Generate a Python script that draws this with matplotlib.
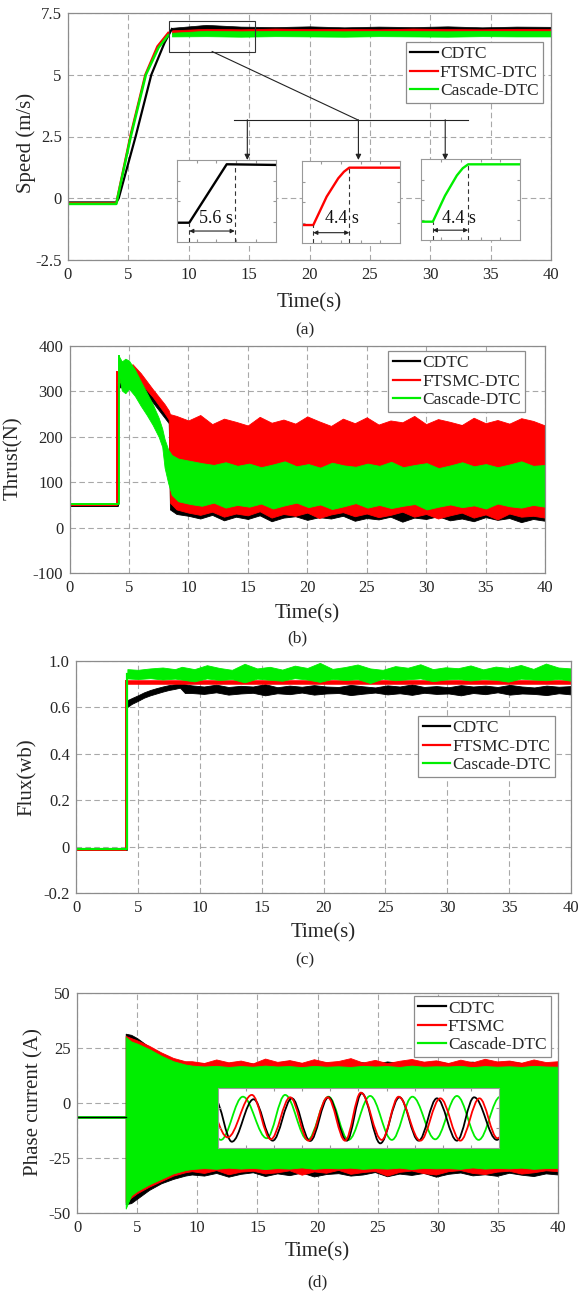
import numpy as np
import matplotlib.pyplot as plt
from matplotlib.lines import Line2D
from matplotlib.patches import Rectangle, PathPatch
from matplotlib.path import Path

plt.rcParams['font.family'] = ['Liberation Serif', 'DejaVu Serif']
plt.rcParams['axes.unicode_minus'] = False

W, H = 579, 1291
BLACK, RED, GREEN = '#000000', '#ff0000', '#00ee00'
GRID = '#a8a8a8'
FRAME = '#8c8c8c'
TXT = '#262626'

labels_abc = ['CDTC', 'FTSMC-DTC', 'Cascade-DTC']
labels_d = ['CDTC', 'FTSMC', 'Cascade-DTC']

# ---------------- (a) speed ----------------
a_blk_t = [0, 4.0, 4.2, 5.6, 6.9, 8.0, 8.6]
a_blk_y = [-0.17, -0.17, 0.0, 2.5, 5.0, 6.3, 6.85]
a_red_t = [0, 4.0, 4.1, 5.2, 6.4, 7.4, 8.3]
a_red_y = [-0.2, -0.2, 0.05, 2.6, 5.0, 6.15, 6.7]
a_grn_t = [0, 4.0, 4.1, 5.2, 6.45, 7.5, 8.3]
a_grn_y = [-0.23, -0.23, 0.0, 2.5, 5.0, 6.1, 6.6]
a_blk_hi = [6.9, 7.02, 6.95, 6.93, 6.96, 6.92, 6.95, 6.93, 6.96, 6.92, 6.95, 6.94]
a_blk_lo = [6.8, 6.78, 6.76, 6.78, 6.75, 6.77, 6.76, 6.78, 6.75, 6.77, 6.76, 6.77]
a_red_hi = [6.8, 6.86, 6.84, 6.87, 6.85, 6.86, 6.84, 6.87, 6.85, 6.84, 6.86, 6.85]
a_red_lo = [6.66, 6.67, 6.65, 6.67, 6.66, 6.65, 6.67, 6.66, 6.65, 6.67, 6.66, 6.66]
a_grn_hi = [6.7, 6.78, 6.76, 6.78, 6.77, 6.76, 6.78, 6.77, 6.76, 6.78, 6.77, 6.77]
a_grn_lo = [6.55, 6.56, 6.54, 6.56, 6.55, 6.54, 6.56, 6.55, 6.54, 6.56, 6.55, 6.55]

# zoomed step responses (inset units, 0..1)
ins_blk_x = [0, 0.127, 0.505, 1.0]
ins_blk_y = [0.238, 0.238, 0.948, 0.94]
ins_red_x = [0, 0.118, 0.254, 0.372, 0.43, 0.484, 1.0]
ins_red_y = [0.222, 0.222, 0.567, 0.79, 0.87, 0.919, 0.919]
ins_grn_x = [0, 0.117, 0.24, 0.36, 0.42, 0.475, 1.0]
ins_grn_y = [0.23, 0.23, 0.55, 0.8, 0.89, 0.938, 0.938]
rise_text = ['5.6 s', '4.4 s', '4.4 s']

# ---------------- (b) thrust ----------------
b_blk_flat_t = [0, 4.05, 4.05]
b_blk_flat_y = [47, 47, 310]
b_red_flat_t = [0, 4.0, 4.0]
b_red_flat_y = [49, 49, 343]
b_grn_flat_t = [0, 4.15, 4.15]
b_grn_flat_y = [51, 51, 378]

b_blk_t0 = [4.05, 4.5, 5.0, 6.0, 7.0, 8.0, 8.35, 8.45]
b_blk_hi0 = [318, 322, 342, 322, 292, 258, 245, 240]
b_blk_lo0 = [308, 310, 322, 302, 276, 242, 230, 40]
b_blk_hi = [225, 218, 228, 215, 222, 230, 217, 224,
            219, 226, 214, 229, 221, 216, 227, 220,
            213, 225, 218, 223, 230, 215, 222, 219,
            226, 216, 224, 221, 228, 214, 220, 218]
b_blk_lo = [30, 26, 20, 28, 16, 24, 19, 27,
            14, 22, 25, 17, 23, 20, 26, 15,
            21, 18, 24, 13, 22, 19, 25, 16,
            20, 14, 23, 17, 21, 12, 19, 15]

b_red_t0 = [4.0, 4.3, 5.0, 5.3, 6.0, 7.0, 8.0, 8.35, 8.45]
b_red_hi0 = [343, 340, 352, 360, 340, 305, 272, 258, 250]
b_red_lo0 = [322, 320, 330, 338, 318, 288, 252, 238, 55]
b_red_hi = [246, 236, 248, 228, 240, 233, 225, 244,
            231, 238, 229, 245, 234, 224, 240, 230,
            243, 227, 236, 232, 246, 228, 239, 233,
            226, 242, 230, 237, 229, 241, 235, 225]
b_red_lo = [40, 33, 28, 35, 24, 31, 27, 36,
            22, 30, 26, 33, 21, 29, 34, 25,
            31, 23, 28, 35, 24, 30, 20, 27,
            33, 22, 29, 18, 31, 24, 26, 22]

b_grn_t0 = [4.15, 4.4, 4.7, 5.0, 5.5, 6.0, 6.5, 7.0, 7.5, 7.8, 8.0, 8.3, 8.6]
b_grn_hi0 = [378, 366, 372, 368, 348, 322, 297, 272, 242, 218, 195, 172, 160]
b_grn_lo0 = [335, 302, 296, 306, 290, 268, 248, 226, 200, 178, 132, 98, 72]
b_grn_hi = [152, 147, 142, 138, 144, 136, 141, 133,
            139, 146, 135, 140, 132, 143, 137, 134,
            141, 136, 145, 133, 138, 142, 131, 137,
            144, 135, 140, 133, 139, 146, 136, 138]
b_grn_lo = [58, 52, 48, 55, 44, 50, 46, 53,
            42, 49, 55, 45, 51, 41, 47, 54,
            44, 50, 43, 48, 52, 40, 46, 51,
            45, 49, 42, 53, 47, 44, 50, 46]

# ---------------- (c) flux ----------------
c_blk_flat_t = [0, 4.1, 4.1]
c_blk_flat_y = [-0.015, -0.015, 0.61]
c_red_flat_t = [0, 4.0, 4.0]
c_red_flat_y = [-0.015, -0.015, 0.715]
c_grn_flat_t = [0, 4.15, 4.15]
c_grn_flat_y = [-0.01, -0.01, 0.745]

c_blk_t0 = [4.1, 4.5, 5.0, 5.5, 6.0, 6.5, 7.0, 7.5, 8.0, 8.4, 8.8]
c_blk_hi0 = [0.63, 0.64, 0.652, 0.665, 0.675, 0.683, 0.69, 0.696, 0.70, 0.703, 0.70]
c_blk_lo0 = [0.60, 0.615, 0.628, 0.642, 0.652, 0.66, 0.668, 0.675, 0.68, 0.685, 0.662]
c_blk_hi = [0.695, 0.69, 0.698, 0.688, 0.693, 0.69, 0.7, 0.687,
            0.694, 0.689, 0.696, 0.69, 0.688, 0.697, 0.691, 0.686,
            0.695, 0.69, 0.699, 0.688, 0.692, 0.687, 0.696, 0.69,
            0.694, 0.688, 0.697, 0.69, 0.686, 0.694, 0.689, 0.692]
c_blk_lo = [0.662, 0.658, 0.665, 0.655, 0.66, 0.663, 0.652, 0.661,
            0.657, 0.664, 0.655, 0.66, 0.662, 0.653, 0.659, 0.664,
            0.656, 0.661, 0.654, 0.663, 0.658, 0.66, 0.652, 0.662,
            0.657, 0.665, 0.655, 0.66, 0.658, 0.653, 0.661, 0.656]
c_red_t = [4.0, 40]
c_red_hi = [0.716, 0.716]
c_red_lo = [0.701, 0.701]
c_grn_t0 = [4.15, 5, 6, 7, 8]
c_grn_hi0 = [0.765, 0.762, 0.768, 0.772, 0.765]
c_grn_lo0 = [0.725, 0.722, 0.726, 0.72, 0.724]
c_grn_hi = [0.775, 0.765, 0.782, 0.77, 0.762, 0.788, 0.768, 0.775,
            0.763, 0.78, 0.77, 0.792, 0.766, 0.774, 0.785, 0.768,
            0.762, 0.778, 0.771, 0.786, 0.765, 0.773, 0.769, 0.781,
            0.764, 0.776, 0.77, 0.783, 0.766, 0.789, 0.772, 0.768]
c_grn_lo = [0.72, 0.712, 0.725, 0.718, 0.722, 0.708, 0.724, 0.719,
            0.715, 0.726, 0.72, 0.71, 0.723, 0.718, 0.722, 0.705,
            0.724, 0.717, 0.721, 0.725, 0.713, 0.72, 0.723, 0.716,
            0.722, 0.719, 0.711, 0.724, 0.72, 0.717, 0.723, 0.715]
c_ticks = [-0.2, 0, 0.2, 0.4, 0.6, 0.8]
c_ticklabels = ['-0.2', '0', '0.2', '0.4', '0.6', '1.0']

# ---------------- (d) phase current ----------------
d_flat_t = [0, 4.05]
d_flat_y = [-6.5, -6.5]
d_t0 = [4.05, 4.5, 5, 6, 7, 8, 9]
d_blk_hi0 = [31.5, 31, 29.5, 25.5, 22.5, 20, 18.5]
d_blk_lo0 = [-46, -45.5, -43.5, -39.5, -36.5, -34.5, -33]
d_red_hi0 = [30.5, 29.5, 28.5, 26, 23, 20.5, 19]
d_red_lo0 = [-45, -43, -41, -38, -35.5, -33, -31.5]
d_grn_hi0 = [30, 28, 27, 24.5, 21.5, 19, 17.5]
d_grn_lo0 = [-48, -42, -40, -37, -34.5, -32, -30.5]
d_blk_hi = [18.5, 18, 19, 18.2, 18.8, 17.9, 18.6, 18.3, 19.2, 18,
            18.7, 18.4, 18.1, 19, 18.5, 17.8, 18.9, 18.2, 18.6, 18.3,
            19.1, 18, 18.5, 18.8, 17.9, 18.4, 19, 18.2, 18.6, 18.1, 18.4]
d_blk_lo = [-32.5, -33, -31.8, -33.5, -32.2, -31.5, -33.2, -32, -32.8, -31.6,
            -33.4, -32.3, -31.9, -33, -32.5, -31.4, -33.3, -32.1, -32.7, -31.8,
            -33.5, -32.2, -31.6, -32.9, -32.4, -33.1, -31.7, -32.6, -33.2, -32, -32.5]
d_red_hi = [19, 18.2, 19.8, 18.5, 19.3, 18, 20.2, 18.7, 19.5, 18.3,
            19.9, 18.6, 19.1, 20.4, 18.4, 19.6, 18.1, 19.2, 20, 18.8,
            19.4, 18.2, 19.7, 18.5, 20.1, 18.9, 19.3, 18.3, 19.8, 18.6, 19]
d_red_lo = [-31, -31.8, -30.5, -32.4, -31.2, -30.8, -32, -31.5, -30.6, -32.6,
            -31.1, -31.7, -30.4, -32.2, -31.4, -30.9, -33, -31.3, -30.7, -31.9,
            -32.5, -31, -30.5, -31.8, -32.3, -31.2, -30.8, -32.1, -31.5, -30.6, -31]
d_grn_hi = [17, 16.6, 16.9, 16.4, 16.8, 16.5, 17, 16.6, 16.8, 16.3,
            16.9, 16.5, 16.7, 16.4, 16.9, 16.6, 16.8, 16.4, 17, 16.5,
            16.7, 16.6, 16.9, 16.3, 16.8, 16.5, 16.7, 16.4, 16.9, 16.6, 16.5]
d_grn_lo = [-30, -29.6, -29.9, -29.4, -29.8, -29.5, -30, -29.6, -29.8, -29.3,
            -29.9, -29.5, -29.7, -29.4, -29.9, -29.6, -29.8, -29.4, -30, -29.5,
            -29.7, -29.6, -29.9, -29.3, -29.8, -29.5, -29.7, -29.4, -29.9, -29.6, -29.5]

# zoomed waveform extrema (inset units: x 0..100, y -20..20)
w_blk_x = [-0.8, 5.1, 12.8, 19.6, 26.4, 32.9, 39.4, 45.9, 51.2, 57.8, 64.6,
           71.4, 77.9, 85.0, 91.1, 99.2, 106.3]
w_blk_y = [12.2, -15.6, 12.7, -14.9, 13.3, -15.1, 14.0, -14.9, 16.7, -16.7, 14.0,
           -14.9, 13.3, -14.9, 14.0, -14.4, 14.0]
w_red_x = [-4.4, 3.6, 12.2, 18.9, 25.8, 32.3, 39.1, 45.3, 50.9, 58.3, 64.3,
           72.0, 79.1, 86.2, 93.0, 99.4, 106.3]
w_red_y = [14.0, -12.7, 15.6, -14.0, 14.0, -14.9, 14.0, -14.9, 17.1, -14.4, 14.4,
           -14.9, 13.3, -14.9, 13.3, -13.3, 14.0]
w_grn_x = [-6.6, 1.2, 9.0, 17.5, 24.0, 32.0, 39.4, 46.5, 54.2, 61.9, 69.2,
           77.3, 85.0, 92.7, 100.4]
w_grn_y = [14.4, -14.4, 14.4, -13.3, 15.6, -14.4, 14.4, -14.4, 14.9, -14.4, 14.4,
           -14.0, 14.9, -14.4, 14.4]


def px_axes(fig, x0, y0, x1, y1):
    return fig.add_axes([x0 / W, 1 - y1 / H, (x1 - x0) / W, (y1 - y0) / H])


def style(ax, ylim, yticks, ylab, ylab_x, ylab_y, xlab_y, yticklabels=None):
    ax.set_xlim(0, 40)
    ax.set_xticks(range(0, 41, 5))
    ax.set_ylim(*ylim)
    ax.set_yticks(yticks)
    if yticklabels is not None:
        ax.set_yticklabels(yticklabels)
    ax.set_axisbelow(True)
    ax.grid(True, ls=(0, (5, 3)), color=GRID, lw=0.8)
    ax.tick_params(length=0, labelsize=12, colors=TXT)
    ax.tick_params(axis='x', pad=5)
    ax.tick_params(axis='y', pad=4.5)
    for s in ax.spines.values():
        s.set_color(FRAME)
        s.set_linewidth(0.9)
    ax.set_xlabel('Time(s)', fontsize=15, color=TXT)
    ax.xaxis.set_label_coords(0.5, xlab_y)
    ax.set_ylabel(ylab, fontsize=15, color=TXT)
    ax.yaxis.set_label_coords(ylab_x, ylab_y)


def legend(ax, labels, anchor):
    handles = [Line2D([], [], color=c, lw=1.6) for c in (BLACK, RED, GREEN)]
    leg = ax.legend(handles, labels, loc='upper right', bbox_to_anchor=anchor,
                    fontsize=12.5, frameon=True, fancybox=False, framealpha=1,
                    edgecolor=FRAME, handlelength=1.6, handletextpad=0.1,
                    borderpad=0.25, labelspacing=0.12, borderaxespad=0)
    leg.get_frame().set_linewidth(0.9)
    for t in leg.get_texts():
        t.set_color(TXT)


def band(ax, t0, hi0, lo0, hi, lo, color, t_end=40):
    t_start = t0[-1] + 0.55 if len(t0) else 0
    t = list(t0) + list(np.linspace(t_start, t_end, len(hi)))
    ax.fill_between(t, list(lo0) + list(lo), list(hi0) + list(hi),
                    color=color, lw=0.6, edgecolor=color)


fig = plt.figure(figsize=(W / 100, H / 100), dpi=100)

# ---------- (a) ----------
ax = px_axes(fig, 68, 13, 551, 260)
ax.plot(a_blk_t, a_blk_y, color=BLACK, lw=1.6)
ax.plot(a_red_t, a_red_y, color=RED, lw=1.6)
ax.plot(a_grn_t, a_grn_y, color=GREEN, lw=1.8)
ta = np.linspace(8.6, 40, len(a_blk_hi))
ax.fill_between(ta, a_blk_lo, a_blk_hi, color=BLACK, lw=0.5)
ax.fill_between(ta, a_red_lo, a_red_hi, color=RED, lw=0.5)
ax.fill_between(ta, a_grn_lo, a_grn_hi, color=GREEN, lw=0.5)
style(ax, (-2.5, 7.5), [-2.5, 0, 2.5, 5, 7.5], 'Speed (m/s)', -0.067, 0.474, -0.134)
ax.set_yticklabels(['-2.5', '0', '2.5', '5', '7.5'])
legend(ax, labels_abc, (0.983, 0.883))

# zoom box and pointer lines
ax.add_patch(Rectangle((8.36, 5.94), 7.14, 1.22, fill=False, ec='#333333', lw=0.8, zorder=5))
ax.plot([11.94, 23.97], [5.94, 3.18], color='#222222', lw=0.8, zorder=5)
ax.plot([13.78, 33.16], [3.18, 3.18], color='#222222', lw=0.8, zorder=5)
for xa in (14.85, 24.05, 31.24):
    ax.annotate('', xy=(xa, 1.55), xytext=(xa, 3.18),
                arrowprops=dict(arrowstyle='-|>', color='#222222', lw=0.8,
                                mutation_scale=8, shrinkA=0, shrinkB=0))

inset_boxes = [(176.7, 160, 275.7, 242.3), (301.7, 161, 400, 243.3), (421.3, 159.3, 520, 240.3)]
inset_curves = [(ins_blk_x, ins_blk_y, BLACK), (ins_red_x, ins_red_y, RED), (ins_grn_x, ins_grn_y, GREEN)]
mark_end = [0.586, 0.484, 0.475]
arrow_y = [0.137, 0.129, 0.125]
text_xy = [(0.392, 0.295), (0.407, 0.30), (0.38, 0.275)]
for box, (xs, ys, col), xe, ay, txy, txt in zip(inset_boxes, inset_curves, mark_end,
                                                arrow_y, text_xy, rise_text):
    ia = px_axes(fig, *box)
    ia.plot(xs, ys, color=col, lw=1.7)
    ia.set_xlim(0, 1)
    ia.set_ylim(0, 1)
    ia.set_xticks([0.2, 0.4, 0.6, 0.8])
    ia.set_yticks([0.25, 0.5, 0.75])
    ia.tick_params(direction='in', length=2, color='#999999', labelbottom=False,
                   labelleft=False, top=True, right=True)
    for s in ia.spines.values():
        s.set_color('#999999')
        s.set_linewidth(0.8)
    ia.plot([xs[1], xs[1]], [0, ys[1]], color='#333333', lw=0.8, ls=(0, (4, 3)))
    ia.plot([xe, xe], [0, ys[-1]], color='#333333', lw=0.8, ls=(0, (4, 3)))
    ia.annotate('', xy=(xe, ay), xytext=(xs[1], ay),
                arrowprops=dict(arrowstyle='<|-|>', color='#222222', lw=0.8,
                                mutation_scale=6, shrinkA=0, shrinkB=0))
    ia.text(txy[0], txy[1], txt, fontsize=13, ha='center', va='center', color='#111111')

fig.text(305 / W, 1 - 330 / H, '(a)', fontsize=12.5, ha='center', va='center', color=TXT)

# ---------- (b) ----------
ax = px_axes(fig, 69.5, 346, 545, 573)
ax.plot(b_blk_flat_t, b_blk_flat_y, color=BLACK, lw=1.4)
ax.plot(b_red_flat_t, b_red_flat_y, color=RED, lw=1.4)
ax.plot(b_grn_flat_t, b_grn_flat_y, color=GREEN, lw=1.4)
band(ax, b_blk_t0, b_blk_hi0, b_blk_lo0, b_blk_hi, b_blk_lo, BLACK)
band(ax, b_red_t0, b_red_hi0, b_red_lo0, b_red_hi, b_red_lo, RED)
band(ax, b_grn_t0, b_grn_hi0, b_grn_lo0, b_grn_hi, b_grn_lo, GREEN)
style(ax, (-100, 400), range(-100, 401, 100), 'Thrust(N)', -0.097, 0.507, -0.137)
legend(ax, labels_abc, (0.958, 0.978))
fig.text(297 / W, 1 - 638 / H, '(b)', fontsize=12.5, ha='center', va='center', color=TXT)

# ---------- (c) ----------
ax = px_axes(fig, 76, 661, 571, 893)
ax.plot(c_blk_flat_t, c_blk_flat_y, color=BLACK, lw=1.4)
ax.plot(c_red_flat_t, c_red_flat_y, color=RED, lw=1.4)
ax.plot(c_grn_flat_t, c_grn_flat_y, color=GREEN, lw=1.6)
band(ax, c_blk_t0, c_blk_hi0, c_blk_lo0, c_blk_hi, c_blk_lo, BLACK)
ax.fill_between(c_red_t, c_red_lo, c_red_hi, color=RED, lw=0.4)
band(ax, c_grn_t0, c_grn_hi0, c_grn_lo0, c_grn_hi, c_grn_lo, GREEN)
style(ax, (-0.2, 0.8), c_ticks, 'Flux(wb)', -0.08, 0.5, -0.129, c_ticklabels)
legend(ax, labels_abc, (0.968, 0.763))
fig.text(305 / W, 1 - 960 / H, '(c)', fontsize=12.5, ha='center', va='center', color=TXT)

# ---------- (d) ----------
ax = px_axes(fig, 77, 993, 558, 1213)
ax.plot(d_flat_t, d_flat_y, color=GREEN, lw=2.0)
ax.plot(d_flat_t, d_flat_y, color=BLACK, lw=1.0)
band(ax, d_t0, d_blk_hi0, d_blk_lo0, d_blk_hi, d_blk_lo, BLACK)
band(ax, d_t0, d_red_hi0, d_red_lo0, d_red_hi, d_red_lo, RED)
band(ax, d_t0, d_grn_hi0, d_grn_lo0, d_grn_hi, d_grn_lo, GREEN)
style(ax, (-50, 50), [-50, -25, 0, 25, 50], 'Phase current (A)', -0.07, 0.505, -0.132)
legend(ax, labels_d, (0.985, 0.986))
fig.text(317 / W, 1 - 1282 / H, '(d)', fontsize=12.5, ha='center', va='center', color=TXT)


def wave_path(xe, ye):
    verts = [(xe[0], ye[0])]
    codes = [Path.MOVETO]
    for i in range(1, len(xe)):
        dx = (xe[i] - xe[i - 1]) * 0.36
        verts += [(xe[i - 1] + dx, ye[i - 1]), (xe[i] - dx, ye[i]), (xe[i], ye[i])]
        codes += [Path.CURVE4] * 3
    return Path(verts, codes)


ia = px_axes(fig, 217.5, 1088.3, 499.2, 1148.3)
ia.set_xlim(0, 100)
ia.set_ylim(-20, 20)
for xe, ye, col in ((w_grn_x, w_grn_y, GREEN), (w_blk_x, w_blk_y, BLACK), (w_red_x, w_red_y, RED)):
    ia.add_patch(PathPatch(wave_path(xe, ye), fill=False, ec=col, lw=1.3))
ia.set_xticks(range(10, 100, 10))
ia.set_yticks([-6.7, 6.7])
ia.tick_params(direction='in', length=2, color='#999999', labelbottom=False,
               labelleft=False, top=True, right=True)
for s in ia.spines.values():
    s.set_color('#999999')
    s.set_linewidth(0.8)

fig.savefig('out.png', dpi=100)
